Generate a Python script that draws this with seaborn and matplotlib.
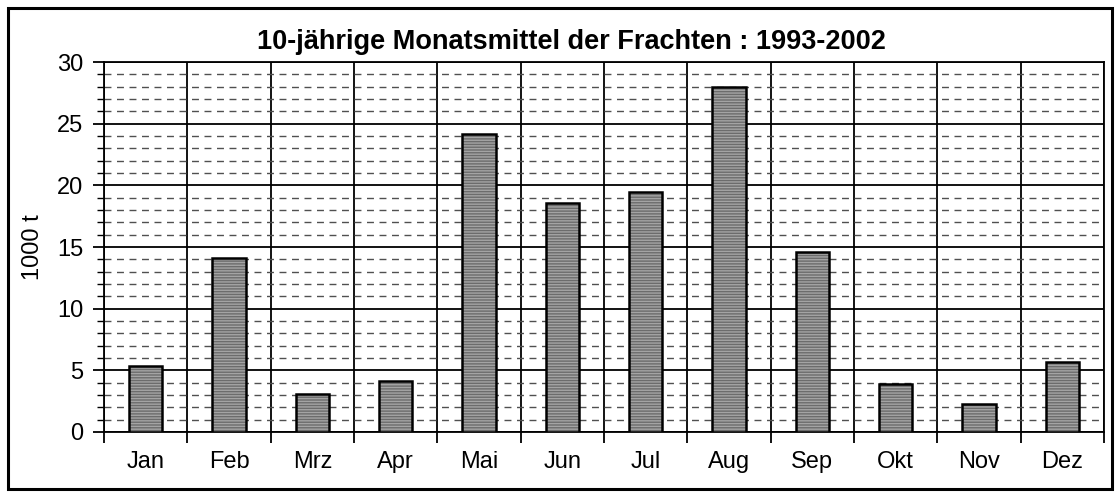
import matplotlib
matplotlib.use("Agg")
import matplotlib.pyplot as plt
from matplotlib.ticker import MultipleLocator, FixedLocator
from matplotlib.patches import Rectangle
import seaborn as sns
import pandas as pd

months = ["Jan", "Feb", "Mrz", "Apr", "Mai", "Jun", "Jul", "Aug", "Sep", "Okt", "Nov", "Dez"]
loads = [5.35, 14.1, 3.1, 4.15, 24.2, 18.6, 19.5, 28.0, 14.6, 3.9, 2.3, 5.7]

sns.set_style("white")
plt.rcParams["font.family"] = ["Liberation Sans", "DejaVu Sans"]
plt.rcParams["text.color"] = "black"
plt.rcParams["axes.labelcolor"] = "black"
plt.rcParams["xtick.color"] = "black"
plt.rcParams["ytick.color"] = "black"
plt.rcParams["hatch.linewidth"] = 1.0

df = pd.DataFrame({"Monat": months, "Fracht": loads})

fig = plt.figure(figsize=(11.2, 4.95), dpi=100)
ax = fig.add_axes([0.0929, 0.1273, 0.8928, 0.7474])

# grey fill with light horizontal stripes (hatch takes the edge colour)
sns.barplot(data=df, x="Monat", y="Fracht", ax=ax, color="#6c6c6c",
            width=0.4, edgecolor="#a4a4a4", linewidth=0, hatch="------",
            saturation=1, zorder=3)
# black outlines on top
sns.barplot(data=df, x="Monat", y="Fracht", ax=ax, fill=False,
            width=0.4, edgecolor="black", linewidth=1.8, zorder=4)

ax.set_xlim(-0.5, len(months) - 0.5)
ax.set_ylim(0, 30)
ax.yaxis.set_major_locator(MultipleLocator(5))
ax.yaxis.set_minor_locator(MultipleLocator(1))
ax.xaxis.set_minor_locator(FixedLocator([i - 0.5 for i in range(len(months) + 1)]))

ax.grid(axis="y", which="major", color="black", linewidth=1.3, zorder=1)
ax.grid(axis="y", which="minor", color="#505050", linewidth=1.0,
        linestyle=(0, (5, 4)), zorder=1)
ax.grid(axis="x", which="minor", color="black", linewidth=1.3, zorder=1)
ax.set_axisbelow(True)

ax.tick_params(axis="y", which="major", direction="out", length=8, width=1.3,
               labelsize=17, left=True, pad=7)
ax.tick_params(axis="y", which="minor", direction="out", length=5, width=1.0,
               left=True)
ax.tick_params(axis="x", which="major", length=0, labelsize=17, pad=14)
ax.tick_params(axis="x", which="minor", direction="out", length=8, width=1.3,
               bottom=True)

for s in ax.spines.values():
    s.set_color("black")
    s.set_linewidth(1.3)

ax.set_xlabel("")
ax.set_ylabel("1000 t", fontsize=17, labelpad=9)
fig.text(0.51, 0.915, "10-jährige Monatsmittel der Frachten : 1993-2002",
         fontsize=19.5, fontweight="bold", ha="center", va="center")

fig.patches.append(Rectangle((0.007, 0.012), 0.986, 0.972, transform=fig.transFigure,
                             fill=False, edgecolor="black", linewidth=2.2))

fig.savefig("out.png", dpi=100, facecolor="white")
